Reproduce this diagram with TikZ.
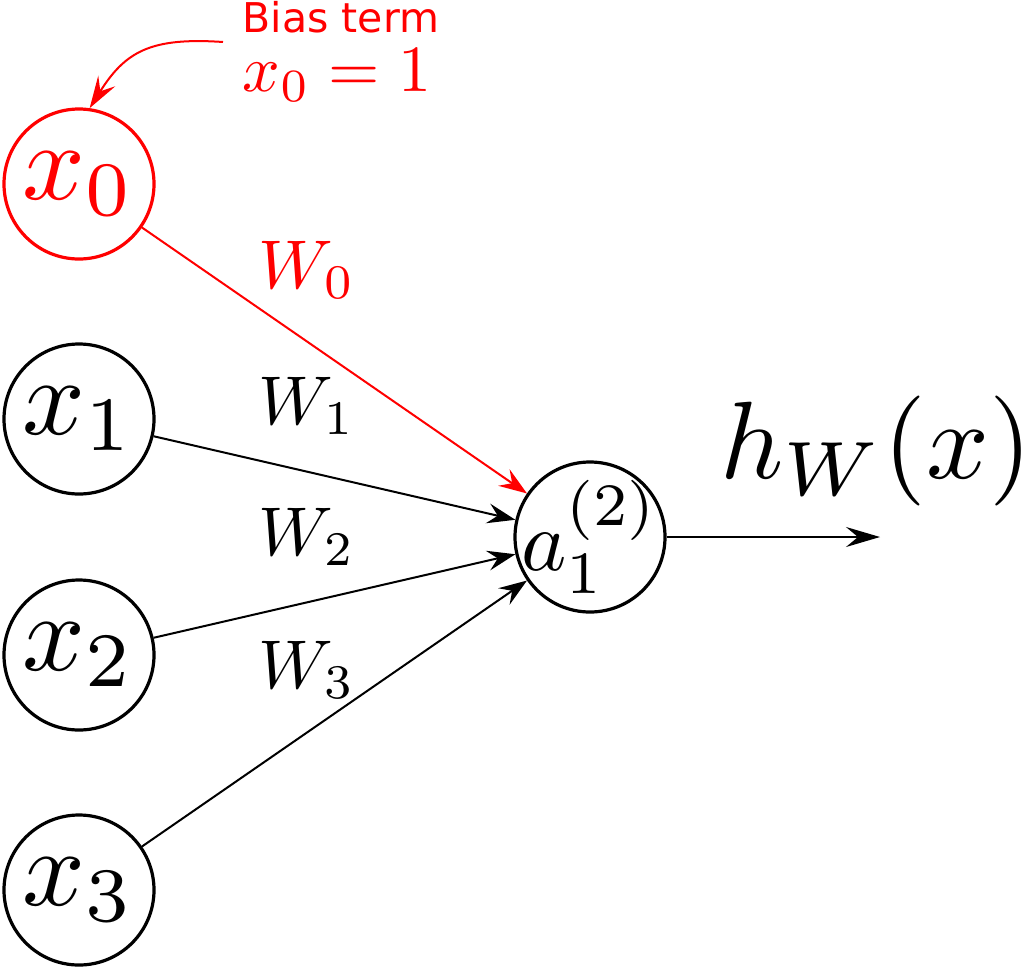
\documentclass[tikz,border=0pt]{standalone}
\usepackage{fontspec}
\usepackage{graphicx}
\newfontfamily\biasfont{DejaVu Sans}
\usetikzlibrary{arrows.meta}
\begin{document}
\begin{tikzpicture}[x=0.5pt,y=-0.5pt,
  neuron/.style={circle,draw,line width=1.6pt,minimum size=75pt,inner sep=0pt},
  conn/.style={line width=1pt,-{Stealth[length=14pt,width=10pt,inset=5pt]}},
  outconn/.style={line width=1pt,-{Stealth[length=17pt,width=10pt,inset=6pt]}},
]
\useasboundingbox (0,0) rectangle (1031,969);
\node[neuron,red] (x0) at (79,184) {\scalebox{5.5}{$x_0$}};
\node[neuron] (x1) at (79,419) {\scalebox{5.5}{$x_1$}};
\node[neuron] (x2) at (79,655) {\scalebox{5.5}{$x_2$}};
\node[neuron] (x3) at (79,890) {\scalebox{5.5}{$x_3$}};
\node[neuron,inner sep=-16pt] (a) at (590,537) {\scalebox{4.3}{$a_1^{(2)}$}};
\coordinate (out) at (880,537);
\node[inner sep=0pt] (h) at (876,451) {\scalebox{5.5}{$h_W(x)$}};
\node[red] (w0) at (307,270) {\scalebox{3.45}{$W_0$}};
\node (w1) at (307,406) {\scalebox{3.45}{$W_1$}};
\node (w2) at (307,537) {\scalebox{3.45}{$W_2$}};
\node (w3) at (307,670) {\scalebox{3.45}{$W_3$}};
\draw[conn,red] (x0) -- (a);
\draw[conn] (x1) -- (a);
\draw[conn] (x2) -- (a);
\draw[conn] (x3) -- (a);
\draw[outconn] (a) -- (out);
\node[red,font=\biasfont\fontsize{20.5}{24}\selectfont] (bias) at (341,17) {Bias term};
\node[red,inner sep=0pt] (x0eq) at (337,75) {\scalebox{3.3}{$x_0=1$}};
\coordinate (bstart) at (223,42);
\draw[red,line width=1pt,-{Stealth[length=16pt,width=10pt,inset=6pt]}] (bstart) .. controls (150,37) and (125,52) .. (x0.82);
\end{tikzpicture}
\end{document}
